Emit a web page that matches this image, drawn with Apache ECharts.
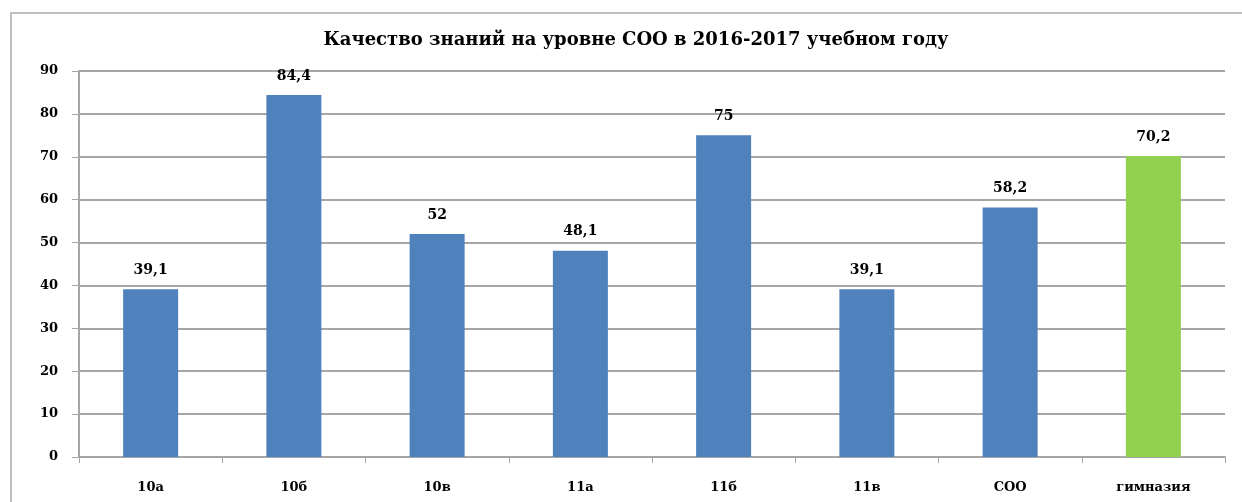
<!DOCTYPE html>
<html>
<head>
<meta charset="utf-8">
<script src="https://cdn.jsdelivr.net/npm/echarts@6/dist/echarts.min.js"></script>
<style>
  html, body { margin: 0; padding: 0; background: #fff; }
  #chart { width: 1242px; height: 502px; }
</style>
</head>
<body>
<div id="chart"></div>
<script>
// классы и значения качества знаний
const categories = ["10а", "10б", "10в", "11а", "11б", "11в", "СОО", "гимназия"];
const values = [39.1, 84.4, 52, 48.1, 75, 39.1, 58.2, 70.2];
const barColors = ["#4F81BD", "#4F81BD", "#4F81BD", "#4F81BD", "#4F81BD", "#4F81BD", "#4F81BD", "#92D050"];

const font = "'DejaVu Serif', 'Liberation Serif', serif";

const chart = echarts.init(document.getElementById("chart"));
chart.setOption({
  animation: false,
  title: {
    text: "Качество знаний на уровне СОО в 2016-2017 учебном году",
    left: 631,
    textAlign: "center",
    top: 26,
    textStyle: { fontFamily: font, fontSize: 18, fontWeight: "bold", color: "#000" }
  },
  graphic: [
    {
      type: "rect",
      shape: { x: 11, y: 13, width: 1300, height: 600 },
      style: { fill: "none", stroke: "#c0c0c0", lineWidth: 2 },
      silent: true
    }
  ],
  grid: { left: 79, right: 17, top: 71, bottom: 45 },
  xAxis: {
    type: "category",
    data: categories,
    axisLine: { lineStyle: { color: "#a6a6a6", width: 2 } },
    axisTick: { show: true, length: 6, lineStyle: { color: "#a6a6a6" } },
    axisLabel: { margin: 24, fontFamily: font, fontSize: 13, fontWeight: "bold", color: "#000" }
  },
  yAxis: {
    type: "value",
    min: 0,
    max: 90,
    interval: 10,
    axisLine: { show: true, lineStyle: { color: "#a6a6a6", width: 2 } },
    axisTick: { show: true, length: 7, lineStyle: { color: "#a6a6a6" } },
    splitLine: { lineStyle: { color: "#a6a6a6", width: 2 } },
    axisLabel: { margin: 21, fontFamily: font, fontSize: 13, fontWeight: "bold", color: "#000" }
  },
  series: [
    {
      type: "bar",
      barWidth: 55,
      data: values.map((v, i) => ({ value: v, itemStyle: { color: barColors[i] } })),
      label: {
        show: true,
        position: "top",
        distance: 12,
        fontFamily: font,
        fontSize: 14,
        fontWeight: "bold",
        color: "#000",
        formatter: (p) => String(p.value).replace(".", ",")
      }
    }
  ]
});
</script>
</body>
</html>
